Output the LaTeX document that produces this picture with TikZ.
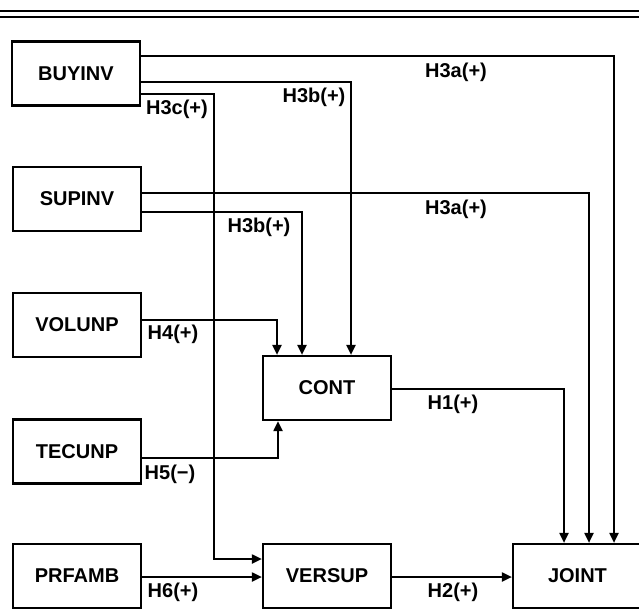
\documentclass[tikz,border=0pt]{standalone}
\usepackage{fontspec}
\setmainfont{Liberation Sans}
\usetikzlibrary{arrows.meta}
\begin{document}
\begin{tikzpicture}[x=1pt,y=-1pt,
  box/.style={draw,line width=2.2pt,minimum width=128pt,minimum height=64pt,inner sep=0pt,
    font=\fontsize{20}{24}\selectfont\bfseries},
  lab/.style={inner sep=0pt,font=\fontsize{20}{24}\selectfont\bfseries},
  conn/.style={line width=2pt},
  arr/.style={conn,-{Triangle[length=10pt,width=9pt]}}]
\useasboundingbox (0,0) rectangle (639,611);
% top rules
\coordinate (r1a) at (0,11); \coordinate (r1b) at (639,11);
\coordinate (r2a) at (0,17); \coordinate (r2b) at (639,17);
\draw[line width=1.8pt] (r1a) -- (r1b);
\draw[line width=1.8pt] (r2a) -- (r2b);
% boxes
\node[box] (buyinv) at (76,73.5) {BUYINV};
\node[box] (supinv) at (77,199) {SUPINV};
\node[box] (volunp) at (77,325) {VOLUNP};
\node[box] (tecunp) at (77,451.5) {TECUNP};
\node[box] (prfamb) at (77,576) {PRFAMB};
\node[box] (cont) at (327,388) {CONT};
\node[box] (versup) at (327,576) {VERSUP};
\node[box,minimum width=129pt] (joint) at (577.5,576) {JOINT};
% routing coordinates
\coordinate (bA) at (614,55.5);
\coordinate (bB) at (351,81.5);
\coordinate (bC) at (214,93.5);
\coordinate (bC2) at (214,559);
\coordinate (sA) at (589,193);
\coordinate (sB) at (302,212);
\coordinate (vH) at (277,320);
\coordinate (cH) at (564,389);
\coordinate (tH) at (278,458);
\coordinate (pH) at (0,577);
% connectors
\draw[arr] (buyinv.east |- bA) -| (joint.north -| bA);
\draw[arr] (buyinv.east |- bB) -| (cont.north -| bB);
\draw[arr] (buyinv.east |- bC) -- (bC) -- (bC2) -- (versup.west |- bC2);
\draw[arr] (supinv.east |- sA) -| (joint.north -| sA);
\draw[arr] (supinv.east |- sB) -| (cont.north -| sB);
\draw[arr] (volunp.east |- vH) -| (cont.north -| vH);
\draw[arr] (cont.east |- cH) -| (joint.north -| cH);
\draw[arr] (tecunp.east |- tH) -| (cont.south -| tH);
\draw[arr] (prfamb.east |- pH) -- (versup.west |- pH);
\draw[arr] (versup.east |- pH) -- (joint.west |- pH);
% labels
\node[lab] (l1) at (456,72) {H3a(+)};
\node[lab] (l2) at (314,97) {H3b(+)};
\node[lab] (l3) at (177,109) {H3c(+)};
\node[lab] (l4) at (456,209) {H3a(+)};
\node[lab] (l5) at (259,227) {H3b(+)};
\node[lab] (l6) at (173,334) {H4(+)};
\node[lab] (l7) at (453,404) {H1(+)};
\node[lab] (l8) at (170,474) {H5(−)};
\node[lab] (l9) at (173,592) {H6(+)};
\node[lab] (l10) at (453,592) {H2(+)};
\end{tikzpicture}
\end{document}
